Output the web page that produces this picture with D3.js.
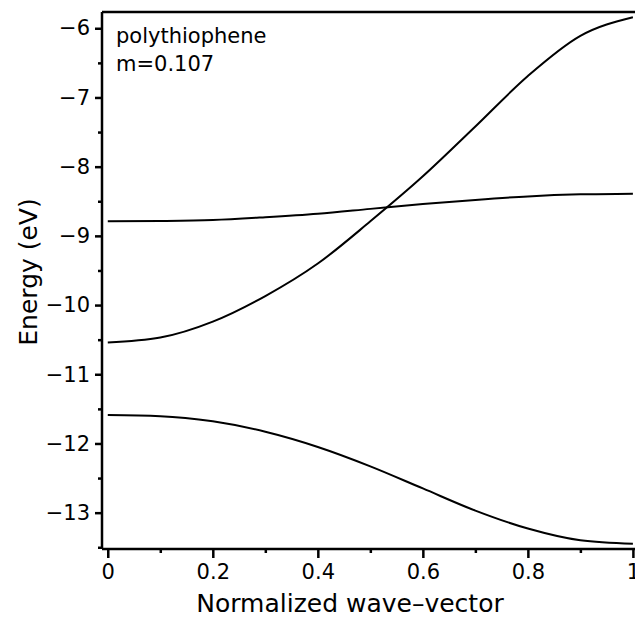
<!DOCTYPE html>
<html lang="en">
  <head>
    <meta charset="utf-8">
    <title>Band structure | polythiophene</title>
    <script type="text/javascript" src="https://cdn.jsdelivr.net/npm/d3@7"></script>
    <style>
    body {
      margin: 0;
      background: #fff;
    }
    #chart text {
      font-family: "DejaVu Sans", sans-serif;
      fill: #000;
    }
    </style>
  </head>
  <body>
    <div id="chart"></div>

    <script type="text/javascript">

      // wave-vector samples (normalized)
      var waveVector = [0, 0.1, 0.2, 0.3, 0.4, 0.5, 0.6, 0.7, 0.8, 0.9, 1];

      // energies (eV)
      var bandUpper = [-10.54, -10.47, -10.24, -9.87, -9.40, -8.79, -8.14, -7.42, -6.69, -6.11, -5.84];
      var bandFlat  = [-8.79, -8.785, -8.77, -8.73, -8.68, -8.61, -8.54, -8.48, -8.43, -8.40, -8.39];
      var bandLower = [-11.59, -11.605, -11.68, -11.83, -12.05, -12.33, -12.65, -12.97, -13.23, -13.40, -13.45];

      var xTicks = [0, 0.2, 0.4, 0.6, 0.8, 1];
      var xMinor = [0.1, 0.3, 0.5, 0.7, 0.9];
      var yTicks = [-6, -7, -8, -9, -10, -11, -12, -13];
      var yMinor = [-6.5, -7.5, -8.5, -9.5, -10.5, -11.5, -12.5, -13.5];

      var legendLines = ["polythiophene", "m=0.107"];

      var width = 635, height = 617;
      var plot = {left: 102, right: 635, top: 12, bottom: 549};

      var svg = d3.select("#chart").append("svg")
          .attr("width", width)
          .attr("height", height);

      var x = d3.scaleLinear()
          .domain([-0.011, 1.004])
          .range([plot.left, plot.right]);

      var y = d3.scaleLinear()
          .domain([-13.525, -5.765])
          .range([plot.bottom, plot.top]);

      var fmtMinus = function(v) { return String(v).replace("-", "\u2212"); };

      // x axis, ticks pointing down
      var xAxis = d3.axisBottom(x)
          .tickValues(xTicks)
          .tickSize(9)
          .tickPadding(6)
          .tickFormat(function(d) { return String(d); });

      svg.append("g")
          .attr("transform", "translate(0," + plot.bottom + ")")
          .call(xAxis);

      svg.append("g")
          .attr("transform", "translate(0," + plot.bottom + ")")
          .call(d3.axisBottom(x).tickValues(xMinor).tickSize(4).tickFormat(""));

      // y axis, ticks pointing left
      var yAxis = d3.axisLeft(y)
          .tickValues(yTicks)
          .tickSize(7)
          .tickPadding(5)
          .tickFormat(fmtMinus);

      svg.append("g")
          .attr("transform", "translate(" + plot.left + ",0)")
          .call(yAxis);

      svg.append("g")
          .attr("transform", "translate(" + plot.left + ",0)")
          .call(d3.axisLeft(y).tickValues(yMinor).tickSize(4).tickFormat(""));

      svg.selectAll(".domain").remove();
      svg.selectAll(".tick line").attr("stroke", "#000").attr("stroke-width", 2.5);
      svg.selectAll(".tick text").attr("font-size", 21).attr("fill", "#000");

      // frame: left, bottom and top lines
      var frame = svg.append("g").attr("stroke", "#000").attr("stroke-width", 2.5);
      frame.append("line").attr("x1", plot.left).attr("x2", plot.left).attr("y1", plot.top).attr("y2", plot.bottom);
      frame.append("line").attr("x1", plot.left).attr("x2", plot.right).attr("y1", plot.bottom).attr("y2", plot.bottom);
      frame.append("line").attr("x1", plot.left).attr("x2", plot.right).attr("y1", plot.top).attr("y2", plot.top);

      // bands
      var line = d3.line()
          .x(function(d) { return x(d[0]); })
          .y(function(d) { return y(d[1]); })
          .curve(d3.curveMonotoneX);

      [bandUpper, bandFlat, bandLower].forEach(function(band) {
        svg.append("path")
            .datum(d3.zip(waveVector, band))
            .attr("d", line)
            .attr("fill", "none")
            .attr("stroke", "#000")
            .attr("stroke-width", 2);
      });

      // legend text
      svg.append("g").selectAll("text")
          .data(legendLines)
          .enter().append("text")
            .attr("x", 116)
            .attr("y", function(d, i) { return 43 + i * 28; })
            .attr("font-size", 21)
            .text(function(d) { return d; });

      // axis titles
      svg.append("text")
          .attr("x", 350)
          .attr("y", 612)
          .attr("text-anchor", "middle")
          .attr("font-size", 25)
          .text("Normalized wave\u2013vector");

      svg.append("text")
          .attr("transform", "translate(37,272) rotate(-90)")
          .attr("text-anchor", "middle")
          .attr("font-size", 25)
          .text("Energy (eV)");

    </script>
  </body>
</html>
